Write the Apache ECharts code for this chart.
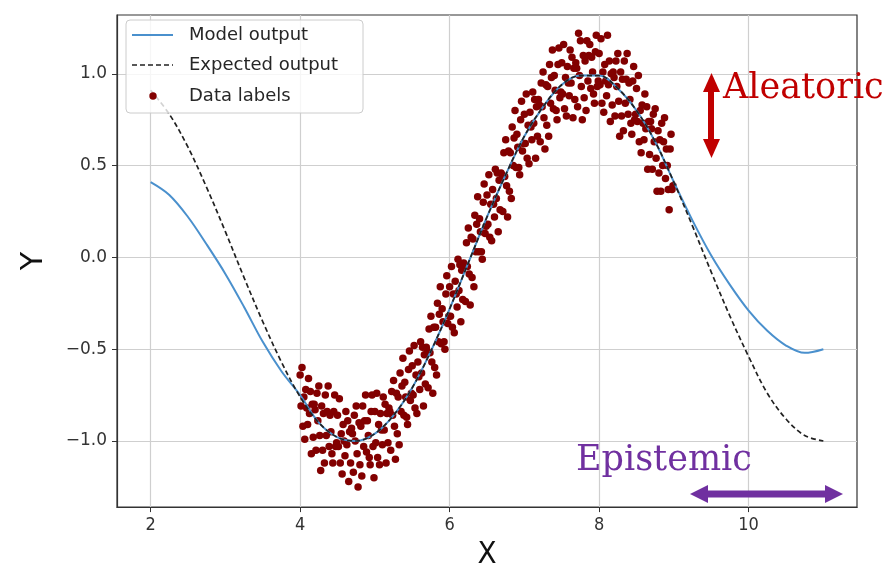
<!DOCTYPE html>
<html>
<head>
<meta charset="utf-8">
<script src="https://cdn.jsdelivr.net/npm/echarts@6/dist/echarts.min.js"></script>
<style>
  html, body { margin: 0; padding: 0; background: #fff; }
  #chart { width: 896px; height: 575px; }
</style>
</head>
<body>
<div id="chart"></div>
<script>
// tick positions
var xTicks = [2, 4, 6, 8, 10];
var yTicks = [-1, -0.5, 0, 0.5, 1];

// curves, every 0.25
var curveX = [2, 2.25, 2.5, 2.75, 3, 3.25, 3.5, 3.75, 4, 4.25, 4.5, 4.75, 5, 5.25, 5.5, 5.75, 6, 6.25, 6.5,
              6.75, 7, 7.25, 7.5, 7.75, 8, 8.25, 8.5, 8.75, 9, 9.25, 9.5, 9.75, 10, 10.25, 10.5, 10.75, 11];
var expectedY = [0.91, 0.78, 0.6, 0.38, 0.14, -0.11, -0.35, -0.57, -0.76, -0.9, -0.98, -1.0, -0.96, -0.86, -0.71, -0.51, -0.28, -0.03, 0.22,
                 0.45, 0.66, 0.82, 0.94, 0.99, 0.99, 0.92, 0.8, 0.63, 0.41, 0.17, -0.08, -0.32, -0.54, -0.74, -0.88, -0.97, -1.0];
var modelY = [0.41, 0.34, 0.22, 0.07, -0.09, -0.27, -0.46, -0.62, -0.75, -0.9, -0.98, -1.0, -0.96, -0.86, -0.71, -0.51, -0.28, -0.03, 0.22,
              0.45, 0.66, 0.82, 0.94, 0.99, 0.99, 0.92, 0.8, 0.63, 0.41, 0.2, 0.01, -0.15, -0.29, -0.4, -0.48, -0.52, -0.5];

// noisy data labels
var scatterPoints = [
  [4.0,-0.64],[4.012,-0.81],[4.025,-0.60],[4.037,-0.92],[4.05,-0.76],[4.062,-0.99],[4.075,-0.72],[4.088,-0.82],
  [4.1,-0.91],[4.112,-0.66],[4.125,-0.85],[4.137,-0.73],[4.15,-1.07],[4.162,-0.80],[4.175,-0.98],[4.188,-0.80],
  [4.2,-0.83],[4.212,-1.05],[4.225,-0.74],[4.237,-0.89],[4.25,-0.70],[4.262,-0.97],[4.275,-1.16],[4.288,-0.81],
  [4.3,-1.05],[4.312,-0.85],[4.325,-1.12],[4.337,-0.75],[4.35,-0.97],[4.362,-0.84],[4.375,-0.70],[4.388,-1.03],
  [4.4,-0.86],[4.412,-0.95],[4.425,-1.07],[4.437,-1.12],[4.45,-0.84],[4.462,-0.75],[4.475,-1.03],[4.488,-1.01],
  [4.5,-0.86],[4.512,-1.03],[4.525,-0.77],[4.537,-1.12],[4.55,-0.96],[4.562,-1.18],[4.575,-0.91],[4.588,-1.00],
  [4.6,-1.08],[4.612,-0.84],[4.625,-1.02],[4.637,-0.89],[4.65,-1.22],[4.662,-0.95],[4.675,-1.12],[4.688,-0.93],
  [4.7,-0.96],[4.712,-1.17],[4.725,-0.86],[4.737,-1.00],[4.75,-0.81],[4.762,-1.07],[4.775,-1.25],[4.788,-0.90],
  [4.8,-1.13],[4.812,-0.92],[4.825,-1.19],[4.837,-0.81],[4.85,-1.03],[4.862,-0.89],[4.875,-0.75],[4.888,-1.06],
  [4.9,-0.89],[4.912,-0.97],[4.925,-1.09],[4.937,-1.13],[4.95,-0.84],[4.962,-0.75],[4.975,-1.03],[4.988,-1.20],
  [5.0,-0.84],[5.012,-1.01],[5.025,-0.74],[5.037,-1.09],[5.05,-0.91],[5.062,-1.13],[5.075,-0.85],[5.088,-0.94],
  [5.1,-1.02],[5.112,-0.76],[5.125,-0.94],[5.137,-0.80],[5.15,-1.12],[5.162,-0.85],[5.175,-1.01],[5.188,-0.82],
  [5.2,-0.84],[5.212,-1.05],[5.225,-0.73],[5.237,-0.86],[5.25,-0.67],[5.262,-0.92],[5.275,-1.10],[5.288,-0.74],
  [5.3,-0.96],[5.312,-0.76],[5.325,-1.02],[5.337,-0.63],[5.35,-0.84],[5.362,-0.70],[5.375,-0.55],[5.388,-0.86],
  [5.4,-0.68],[5.412,-0.76],[5.425,-0.87],[5.437,-0.91],[5.45,-0.61],[5.462,-0.51],[5.475,-0.78],[5.488,-0.74],
  [5.5,-0.59],[5.512,-0.75],[5.525,-0.48],[5.537,-0.82],[5.55,-0.64],[5.562,-0.85],[5.575,-0.57],[5.588,-0.65],
  [5.6,-0.72],[5.612,-0.46],[5.625,-0.63],[5.637,-0.49],[5.65,-0.81],[5.662,-0.53],[5.675,-0.69],[5.688,-0.49],
  [5.7,-0.51],[5.712,-0.71],[5.725,-0.39],[5.737,-0.52],[5.75,-0.32],[5.762,-0.57],[5.775,-0.74],[5.788,-0.38],
  [5.8,-0.60],[5.812,-0.38],[5.825,-0.64],[5.837,-0.25],[5.85,-0.46],[5.862,-0.31],[5.875,-0.16],[5.888,-0.47],
  [5.9,-0.28],[5.912,-0.35],[5.925,-0.46],[5.937,-0.50],[5.95,-0.20],[5.962,-0.10],[5.975,-0.36],[5.988,-0.32],
  [6.0,-0.16],[6.012,-0.32],[6.025,-0.05],[6.037,-0.38],[6.05,-0.20],[6.062,-0.41],[6.075,-0.13],[6.088,-0.20],
  [6.1,-0.27],[6.112,-0.01],[6.125,-0.18],[6.137,-0.04],[6.15,-0.35],[6.162,-0.07],[6.175,-0.23],[6.188,-0.03],
  [6.2,-0.04],[6.212,-0.24],[6.225,0.08],[6.237,-0.05],[6.25,0.16],[6.262,-0.09],[6.275,-0.26],[6.288,0.11],
  [6.3,-0.11],[6.312,0.10],[6.325,-0.16],[6.337,0.23],[6.35,0.03],[6.362,0.18],[6.375,0.33],[6.388,0.03],
  [6.4,0.21],[6.412,0.14],[6.425,0.03],[6.437,-0.01],[6.45,0.30],[6.462,0.40],[6.475,0.13],[6.488,0.17],
  [6.5,0.34],[6.512,0.18],[6.525,0.45],[6.537,0.11],[6.55,0.29],[6.562,0.09],[6.575,0.37],[6.588,0.29],
  [6.6,0.22],[6.612,0.48],[6.625,0.32],[6.637,0.46],[6.65,0.14],[6.662,0.42],[6.675,0.26],[6.688,0.46],
  [6.7,0.45],[6.712,0.25],[6.725,0.57],[6.737,0.44],[6.75,0.64],[6.762,0.39],[6.775,0.22],[6.788,0.58],
  [6.8,0.36],[6.812,0.57],[6.825,0.32],[6.837,0.71],[6.85,0.50],[6.862,0.65],[6.875,0.80],[6.888,0.49],
  [6.9,0.67],[6.912,0.60],[6.925,0.49],[6.937,0.45],[6.95,0.75],[6.962,0.85],[6.975,0.58],[6.988,0.62],
  [7.0,0.78],[7.012,0.62],[7.025,0.89],[7.037,0.54],[7.05,0.72],[7.062,0.51],[7.075,0.79],[7.088,0.71],
  [7.1,0.64],[7.112,0.90],[7.125,0.73],[7.137,0.86],[7.15,0.54],[7.162,0.82],[7.175,0.66],[7.188,0.86],
  [7.2,0.83],[7.212,0.63],[7.225,0.95],[7.237,0.82],[7.25,1.01],[7.262,0.76],[7.275,0.59],[7.288,0.94],
  [7.3,0.72],[7.312,0.93],[7.325,0.66],[7.337,1.05],[7.35,0.84],[7.362,0.98],[7.375,1.13],[7.388,0.81],
  [7.4,0.99],[7.412,0.91],[7.425,0.80],[7.437,0.75],[7.45,1.05],[7.462,1.14],[7.475,0.87],[7.488,0.90],
  [7.5,1.06],[7.512,0.89],[7.525,1.16],[7.537,0.81],[7.55,0.98],[7.562,0.77],[7.575,1.04],[7.588,0.95],
  [7.6,0.88],[7.612,1.13],[7.625,0.95],[7.637,1.09],[7.65,0.76],[7.662,1.03],[7.675,0.86],[7.688,1.06],
  [7.7,1.03],[7.712,0.82],[7.725,1.22],[7.737,0.99],[7.75,1.18],[7.762,0.93],[7.775,0.75],[7.788,1.10],
  [7.8,0.87],[7.812,1.07],[7.825,0.80],[7.837,1.18],[7.85,0.96],[7.862,1.10],[7.875,1.16],[7.888,0.92],
  [7.9,1.09],[7.912,1.01],[7.925,0.89],[7.937,0.84],[7.95,1.12],[7.962,1.21],[7.975,0.93],[7.988,0.96],
  [8.0,1.11],[8.012,0.94],[8.025,1.19],[8.037,0.84],[8.05,1.01],[8.062,0.79],[8.075,1.05],[8.088,0.96],
  [8.1,0.88],[8.112,1.21],[8.125,0.94],[8.137,1.07],[8.15,0.74],[8.162,1.00],[8.175,0.83],[8.188,1.01],
  [8.2,0.98],[8.212,0.77],[8.225,1.07],[8.237,0.93],[8.25,1.11],[8.262,0.85],[8.275,0.66],[8.288,1.01],
  [8.3,0.77],[8.312,0.97],[8.325,0.69],[8.337,1.07],[8.35,0.84],[8.362,0.97],[8.375,1.11],[8.388,0.78],
  [8.4,0.95],[8.412,0.86],[8.425,0.73],[8.437,0.67],[8.45,0.96],[8.462,1.04],[8.475,0.75],[8.488,0.78],
  [8.5,0.92],[8.512,0.74],[8.525,0.99],[8.537,0.63],[8.55,0.80],[8.562,0.57],[8.575,0.83],[8.588,0.73],
  [8.6,0.64],[8.612,0.89],[8.625,0.70],[8.637,0.82],[8.65,0.48],[8.662,0.74],[8.675,0.56],[8.688,0.74],
  [8.7,0.70],[8.712,0.48],[8.725,0.78],[8.737,0.63],[8.75,0.81],[8.762,0.54],[8.775,0.36],[8.788,0.69],
  [8.8,0.46],[8.812,0.64],[8.825,0.36],[8.837,0.73],[8.85,0.50],[8.862,0.63],[8.875,0.76],[8.888,0.43],
  [8.9,0.59],[8.912,0.50],[8.925,0.37],[8.937,0.26],[8.95,0.59],[8.962,0.67],[8.975,0.37],[8.988,0.39]
];

var legendNames = ['Model output', 'Expected output', 'Data labels'];

var BLUE = '#4a90cd';
var DARK = '#333333';
var DOT = '#820000';
var RED = '#c00000';
var PURPLE = '#7030a0';

function pairs(xs, ys) {
    return xs.map(function (x, i) { return [x, ys[i]]; });
}

var chart = echarts.init(document.getElementById('chart'), null, { renderer: 'canvas' });

var option = {
    animation: false,
    backgroundColor: '#ffffff',
    grid: {
        left: 117, top: 15, right: 39, bottom: 63,
        show: true, borderColor: DARK, borderWidth: 1.2
    },
    xAxis: {
        type: 'value',
        min: 1.55, max: 11.45,
        name: 'X', nameLocation: 'middle', nameGap: 30,
        nameTextStyle: { fontSize: 31, color: '#111', fontFamily: "'Liberation Sans Narrow', 'DejaVu Sans Condensed', sans-serif" },
        axisLine: { show: true, onZero: false, lineStyle: { color: DARK, width: 1.2 } },
        axisTick: { show: true, length: 5, customValues: xTicks, lineStyle: { color: DARK } },
        axisLabel: {
            customValues: xTicks, margin: 9, fontSize: 18, color: '#333',
            fontFamily: "'Liberation Sans Narrow', 'DejaVu Sans Condensed', sans-serif"
        },
        splitLine: { show: true, lineStyle: { color: '#cfcfcf', width: 1.2 } }
    },
    yAxis: {
        type: 'value',
        min: -1.36, max: 1.32,
        name: 'Y', nameLocation: 'middle', nameGap: 68, nameRotate: 90,
        nameTextStyle: { fontSize: 30, color: '#111', fontFamily: 'DejaVu Sans' },
        axisLine: { show: true, onZero: false, lineStyle: { color: DARK, width: 1.2 } },
        axisTick: { show: true, length: 5, customValues: yTicks, lineStyle: { color: DARK } },
        axisLabel: {
            customValues: yTicks, margin: 10, fontSize: 17, color: '#333', fontFamily: 'DejaVu Sans',
            formatter: function (v) { return v.toFixed(1).replace('-', '\u2212'); }
        },
        splitLine: { show: true, lineStyle: { color: '#cfcfcf', width: 1.2 } }
    },
    series: [
        {
            name: legendNames[2],
            type: 'scatter',
            data: scatterPoints,
            symbolSize: 7.5,
            itemStyle: { color: DOT, opacity: 1 },
            z: 2
        },
        {
            name: legendNames[0],
            type: 'line',
            data: pairs(curveX, modelY),
            smooth: 0.35,
            showSymbol: false,
            lineStyle: { color: BLUE, width: 2 },
            z: 3
        },
        {
            name: legendNames[1],
            type: 'line',
            data: pairs(curveX, expectedY),
            smooth: 0.35,
            showSymbol: false,
            lineStyle: { color: '#222', width: 1.7, type: [5, 3] },
            z: 4
        }
    ],
    graphic: [
        // legend box
        {
            type: 'rect', z: 100,
            shape: { x: 126, y: 20, width: 237, height: 93, r: 4 },
            style: { fill: 'rgba(255,255,255,0.8)', stroke: '#cccccc', lineWidth: 1 }
        },
        {
            type: 'line', z: 101,
            shape: { x1: 132, y1: 35, x2: 173, y2: 35 },
            style: { stroke: BLUE, lineWidth: 2 }
        },
        {
            type: 'line', z: 101,
            shape: { x1: 132, y1: 65, x2: 173, y2: 65 },
            style: { stroke: '#222', lineWidth: 1.7, lineDash: [5, 3] }
        },
        {
            type: 'circle', z: 101,
            shape: { cx: 153, cy: 96, r: 3.7 },
            style: { fill: DOT }
        },
        {
            type: 'text', z: 101, x: 189, y: 35,
            style: { text: legendNames[0], fill: '#262626', font: '18px DejaVu Sans', verticalAlign: 'middle' }
        },
        {
            type: 'text', z: 101, x: 189, y: 65,
            style: { text: legendNames[1], fill: '#262626', font: '18px DejaVu Sans', verticalAlign: 'middle' }
        },
        {
            type: 'text', z: 101, x: 189, y: 96,
            style: { text: legendNames[2], fill: '#262626', font: '18px DejaVu Sans', verticalAlign: 'middle' }
        },
        // aleatoric arrow + text
        {
            type: 'rect', z: 100,
            shape: { x: 708, y: 88, width: 6, height: 54 },
            style: { fill: RED }
        },
        {
            type: 'polygon', z: 100,
            shape: { points: [[703, 92], [720, 92], [711.5, 73]] },
            style: { fill: RED }
        },
        {
            type: 'polygon', z: 100,
            shape: { points: [[703, 139], [720, 139], [711.5, 158]] },
            style: { fill: RED }
        },
        {
            type: 'text', z: 100, x: 723, y: 89,
            style: { text: 'Aleatoric', fill: RED, font: '35px DejaVu Serif', verticalAlign: 'middle' }
        },
        // epistemic arrow + text
        {
            type: 'rect', z: 100,
            shape: { x: 705, y: 490.5, width: 123, height: 7 },
            style: { fill: PURPLE }
        },
        {
            type: 'polygon', z: 100,
            shape: { points: [[708, 485], [708, 503], [690, 494]] },
            style: { fill: PURPLE }
        },
        {
            type: 'polygon', z: 100,
            shape: { points: [[825, 485], [825, 503], [843, 494]] },
            style: { fill: PURPLE }
        },
        {
            type: 'text', z: 100, x: 576, y: 461,
            style: { text: 'Epistemic', fill: PURPLE, font: '35px DejaVu Serif', verticalAlign: 'middle' }
        }
    ]
};

chart.setOption(option);
</script>
</body>
</html>
